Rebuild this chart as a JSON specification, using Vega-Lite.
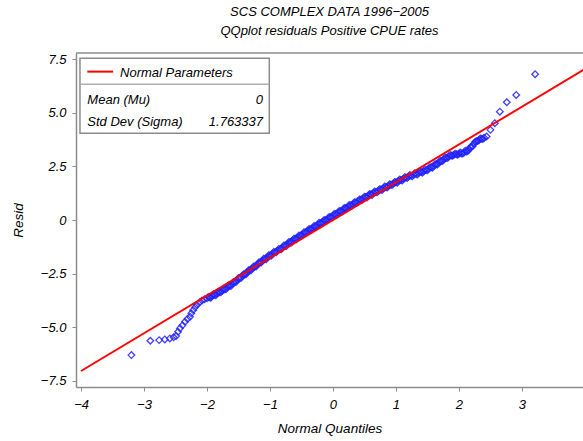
{
  "$schema": "https://vega.github.io/schema/vega-lite/v6.json",
  "autosize": {"type": "none"},
  "padding": {"left": 76, "top": 53, "right": 0, "bottom": 54},
  "width": 507,
  "height": 334,
  "background": "white",
  "title": {
    "text": ["SCS COMPLEX DATA 1996−2005", "QQplot residuals Positive CPUE rates"],
    "font": "Liberation Sans", "fontSize": 13, "fontStyle": "italic", "fontWeight": "normal",
    "lineHeight": 19, "offset": 14, "anchor": "middle", "color": "black"
  },
  "config": {
    "view": {"stroke": null},
    "axis": {
      "grid": false,
      "domainColor": "#8c8c8c", "domainWidth": 1.5,
      "tickColor": "#8c8c8c", "tickSize": 4,
      "labelFont": "Liberation Sans", "labelFontSize": 13, "labelFontStyle": "italic", "labelColor": "black",
      "titleFont": "Liberation Sans", "titleFontSize": 13.5, "titleFontStyle": "italic", "titleFontWeight": "normal", "titleColor": "black"
    }
  },
  "datasets": {
    "qq": [
      {"q": -3.20, "resid": -6.31}, {"q": -2.90, "resid": -5.64}, {"q": -2.76, "resid": -5.61},
      {"q": -2.67, "resid": -5.58}, {"q": -2.59, "resid": -5.53}, {"q": -2.53, "resid": -5.48},
      {"q": -2.49, "resid": -5.42}, {"q": -2.46, "resid": -5.22}, {"q": -2.43, "resid": -5.06},
      {"q": -2.39, "resid": -4.92}, {"q": -2.35, "resid": -4.75}, {"q": -2.31, "resid": -4.62},
      {"q": -2.27, "resid": -4.52}, {"q": -2.25, "resid": -4.36}, {"q": -2.22, "resid": -4.21},
      {"q": -2.19, "resid": -4.08}, {"q": -2.16, "resid": -3.97}, {"q": -2.12, "resid": -3.85},
      {"q": -2.08, "resid": -3.76}, {"q": -2.04, "resid": -3.70}, {"q": -2.00, "resid": -3.66},
      {"q": -1.96, "resid": -3.61}, {"q": -1.92, "resid": -3.55}, {"q": -1.88, "resid": -3.49},
      {"q": -1.84, "resid": -3.43}, {"q": -1.80, "resid": -3.37}, {"q": -1.76, "resid": -3.30},
      {"q": -1.72, "resid": -3.23}, {"q": -1.68, "resid": -3.15}, {"q": -1.64, "resid": -3.07},
      {"q": -1.60, "resid": -2.99}, {"q": -1.56, "resid": -2.90}, {"q": -1.52, "resid": -2.81},
      {"q": -1.48, "resid": -2.71}, {"q": -1.44, "resid": -2.62}, {"q": -1.40, "resid": -2.53},
      {"q": -1.36, "resid": -2.44}, {"q": -1.32, "resid": -2.35}, {"q": -1.28, "resid": -2.26},
      {"q": -1.24, "resid": -2.17}, {"q": -1.20, "resid": -2.08}, {"q": -1.16, "resid": -1.99},
      {"q": -1.12, "resid": -1.90}, {"q": -1.08, "resid": -1.82}, {"q": -1.04, "resid": -1.74},
      {"q": -1.00, "resid": -1.66}, {"q": -0.96, "resid": -1.58}, {"q": -0.92, "resid": -1.50},
      {"q": -0.88, "resid": -1.43}, {"q": -0.84, "resid": -1.36}, {"q": -0.80, "resid": -1.28},
      {"q": -0.76, "resid": -1.20}, {"q": -0.72, "resid": -1.12}, {"q": -0.68, "resid": -1.04},
      {"q": -0.64, "resid": -0.96}, {"q": -0.60, "resid": -0.88}, {"q": -0.56, "resid": -0.81},
      {"q": -0.52, "resid": -0.73}, {"q": -0.48, "resid": -0.66}, {"q": -0.44, "resid": -0.58},
      {"q": -0.40, "resid": -0.51}, {"q": -0.36, "resid": -0.44}, {"q": -0.32, "resid": -0.37},
      {"q": -0.28, "resid": -0.30}, {"q": -0.24, "resid": -0.22}, {"q": -0.20, "resid": -0.15},
      {"q": -0.16, "resid": -0.08}, {"q": -0.12, "resid": -0.01}, {"q": -0.08, "resid": 0.06},
      {"q": -0.04, "resid": 0.13}, {"q": 0.00, "resid": 0.20}, {"q": 0.04, "resid": 0.27},
      {"q": 0.08, "resid": 0.34}, {"q": 0.12, "resid": 0.41}, {"q": 0.16, "resid": 0.48},
      {"q": 0.20, "resid": 0.55}, {"q": 0.24, "resid": 0.62}, {"q": 0.28, "resid": 0.68},
      {"q": 0.32, "resid": 0.75}, {"q": 0.36, "resid": 0.82}, {"q": 0.40, "resid": 0.88},
      {"q": 0.44, "resid": 0.95}, {"q": 0.48, "resid": 1.01}, {"q": 0.52, "resid": 1.07},
      {"q": 0.56, "resid": 1.13}, {"q": 0.60, "resid": 1.19}, {"q": 0.64, "resid": 1.25},
      {"q": 0.68, "resid": 1.31}, {"q": 0.72, "resid": 1.37}, {"q": 0.76, "resid": 1.42},
      {"q": 0.80, "resid": 1.48}, {"q": 0.84, "resid": 1.54}, {"q": 0.88, "resid": 1.59},
      {"q": 0.92, "resid": 1.65}, {"q": 0.96, "resid": 1.70}, {"q": 1.00, "resid": 1.76},
      {"q": 1.04, "resid": 1.82}, {"q": 1.08, "resid": 1.87}, {"q": 1.12, "resid": 1.93},
      {"q": 1.16, "resid": 1.98}, {"q": 1.20, "resid": 2.03}, {"q": 1.24, "resid": 2.07},
      {"q": 1.28, "resid": 2.11}, {"q": 1.32, "resid": 2.15}, {"q": 1.36, "resid": 2.19},
      {"q": 1.40, "resid": 2.24}, {"q": 1.44, "resid": 2.28}, {"q": 1.48, "resid": 2.33},
      {"q": 1.52, "resid": 2.39}, {"q": 1.56, "resid": 2.46}, {"q": 1.60, "resid": 2.52},
      {"q": 1.64, "resid": 2.60}, {"q": 1.68, "resid": 2.68}, {"q": 1.72, "resid": 2.76},
      {"q": 1.76, "resid": 2.84}, {"q": 1.80, "resid": 2.91}, {"q": 1.84, "resid": 2.97},
      {"q": 1.88, "resid": 3.01}, {"q": 1.92, "resid": 3.05}, {"q": 1.96, "resid": 3.07},
      {"q": 2.00, "resid": 3.09}, {"q": 2.04, "resid": 3.11}, {"q": 2.08, "resid": 3.15},
      {"q": 2.12, "resid": 3.20}, {"q": 2.16, "resid": 3.29}, {"q": 2.20, "resid": 3.42},
      {"q": 2.24, "resid": 3.57}, {"q": 2.28, "resid": 3.68}, {"q": 2.32, "resid": 3.74},
      {"q": 2.36, "resid": 3.79}, {"q": 2.40, "resid": 3.84}, {"q": 2.44, "resid": 3.90},
      {"q": 2.50, "resid": 4.21}, {"q": 2.57, "resid": 4.52}, {"q": 2.65, "resid": 5.06},
      {"q": 2.76, "resid": 5.50}, {"q": 2.91, "resid": 5.84}, {"q": 3.21, "resid": 6.81},
      {"q": -1.98, "resid": -3.60}, {"q": -1.94, "resid": -3.63}, {"q": -1.90, "resid": -3.47},
      {"q": -1.86, "resid": -3.51}, {"q": -1.82, "resid": -3.35}, {"q": -1.78, "resid": -3.38},
      {"q": -1.74, "resid": -3.22}, {"q": -1.70, "resid": -3.24}, {"q": -1.66, "resid": -3.06},
      {"q": -1.62, "resid": -3.08}, {"q": -1.58, "resid": -2.90}, {"q": -1.54, "resid": -2.90},
      {"q": -1.50, "resid": -2.71}, {"q": -1.46, "resid": -2.71}, {"q": -1.42, "resid": -2.53},
      {"q": -1.38, "resid": -2.53}, {"q": -1.34, "resid": -2.35}, {"q": -1.30, "resid": -2.35},
      {"q": -1.26, "resid": -2.17}, {"q": -1.22, "resid": -2.17}, {"q": -1.18, "resid": -1.99},
      {"q": -1.14, "resid": -1.99}, {"q": -1.10, "resid": -1.81}, {"q": -1.06, "resid": -1.83},
      {"q": -1.02, "resid": -1.65}, {"q": -0.98, "resid": -1.67}, {"q": -0.94, "resid": -1.49},
      {"q": -0.90, "resid": -1.51}, {"q": -0.86, "resid": -1.35}, {"q": -0.82, "resid": -1.37},
      {"q": -0.78, "resid": -1.19}, {"q": -0.74, "resid": -1.21}, {"q": -0.70, "resid": -1.03},
      {"q": -0.66, "resid": -1.05}, {"q": -0.62, "resid": -0.87}, {"q": -0.58, "resid": -0.90},
      {"q": -0.54, "resid": -0.72}, {"q": -0.50, "resid": -0.74}, {"q": -0.46, "resid": -0.57},
      {"q": -0.42, "resid": -0.59}, {"q": -0.38, "resid": -0.42}, {"q": -0.34, "resid": -0.45},
      {"q": -0.30, "resid": -0.28}, {"q": -0.26, "resid": -0.31}, {"q": -0.22, "resid": -0.13},
      {"q": -0.18, "resid": -0.16}, {"q": -0.14, "resid": 0.00}, {"q": -0.10, "resid": -0.02},
      {"q": -0.06, "resid": 0.14}, {"q": -0.02, "resid": 0.11}, {"q": 0.02, "resid": 0.28},
      {"q": 0.06, "resid": 0.25}, {"q": 0.10, "resid": 0.42}, {"q": 0.14, "resid": 0.39},
      {"q": 0.18, "resid": 0.56}, {"q": 0.22, "resid": 0.53}, {"q": 0.26, "resid": 0.70},
      {"q": 0.30, "resid": 0.66}, {"q": 0.34, "resid": 0.83}, {"q": 0.38, "resid": 0.80},
      {"q": 0.42, "resid": 0.96}, {"q": 0.46, "resid": 0.93}, {"q": 0.50, "resid": 1.09},
      {"q": 0.54, "resid": 1.05}, {"q": 0.58, "resid": 1.21}, {"q": 0.62, "resid": 1.17},
      {"q": 0.66, "resid": 1.33}, {"q": 0.70, "resid": 1.29}, {"q": 0.74, "resid": 1.44},
      {"q": 0.78, "resid": 1.40}, {"q": 0.82, "resid": 1.56}, {"q": 0.86, "resid": 1.52},
      {"q": 0.90, "resid": 1.67}, {"q": 0.94, "resid": 1.63}, {"q": 0.98, "resid": 1.78},
      {"q": 1.02, "resid": 1.74}, {"q": 1.06, "resid": 1.89}, {"q": 1.10, "resid": 1.85},
      {"q": 1.14, "resid": 2.00}, {"q": 1.18, "resid": 1.96}, {"q": 1.22, "resid": 2.10},
      {"q": 1.26, "resid": 2.04}, {"q": 1.30, "resid": 2.18}, {"q": 1.34, "resid": 2.12},
      {"q": 1.38, "resid": 2.26}, {"q": 1.42, "resid": 2.21}, {"q": 1.46, "resid": 2.35},
      {"q": 1.50, "resid": 2.32}, {"q": 1.54, "resid": 2.47}, {"q": 1.58, "resid": 2.44},
      {"q": 1.62, "resid": 2.61}, {"q": 1.66, "resid": 2.59}, {"q": 1.70, "resid": 2.77},
      {"q": 1.74, "resid": 2.75}, {"q": 1.78, "resid": 2.91}, {"q": 1.82, "resid": 2.89},
      {"q": 1.86, "resid": 3.04}, {"q": 1.90, "resid": 3.00}, {"q": 1.94, "resid": 3.10},
      {"q": 1.98, "resid": 3.05}, {"q": 2.02, "resid": 3.15}, {"q": 2.06, "resid": 3.10},
      {"q": 2.10, "resid": 3.23}, {"q": 2.14, "resid": 3.22}, {"q": 2.18, "resid": 3.40},
      {"q": 2.22, "resid": 3.46}, {"q": 2.26, "resid": 3.66}, {"q": 2.30, "resid": 3.69},
      {"q": 2.34, "resid": 3.81}, {"q": 2.38, "resid": 3.78}
    ],
    "fit": [
      {"q": -4, "fit": -7.053348, "series": "Normal Parameters"},
      {"q": 4, "fit": 7.053348, "series": "Normal Parameters"}
    ],
    "stats": [
      {"stat": "Mean (Mu)", "value": "0"},
      {"stat": "Std Dev (Sigma)", "value": "1.763337"}
    ]
  },
  "layer": [
    {
      "data": {"values": [{}]},
      "mark": {"type": "rule", "stroke": "#8c8c8c", "strokeWidth": 1.5},
      "encoding": {
        "x": {"datum": -4.08}, "x2": {"datum": 3.97},
        "y": {"datum": 7.8}
      }
    },
    {
      "data": {"name": "qq"},
      "mark": {"type": "point", "shape": "diamond", "filled": false, "stroke": "#2222ff", "strokeWidth": 1.3, "size": 44, "opacity": 0.85},
      "encoding": {
        "x": {"field": "q", "type": "quantitative", "scale": {"domain": [-4.08, 3.97], "nice": false, "zero": false},
          "axis": {"values": [-4, -3, -2, -1, 0, 1, 2, 3, 4], "format": ".0f", "title": "Normal Quantiles", "labelPadding": 7, "titlePadding": 10}},
        "y": {"field": "resid", "type": "quantitative", "scale": {"domain": [-7.8, 7.8], "nice": false, "zero": false},
          "axis": {"values": [-7.5, -5, -2.5, 0, 2.5, 5, 7.5], "title": "Resid", "labelPadding": 6, "titlePadding": 15,
            "labelExpr": "datum.value == 0 ? '0' : format(datum.value, '.1f')"}}
      }
    },
    {
      "data": {"name": "fit"},
      "mark": {"type": "line", "color": "#ff0000", "strokeWidth": 2},
      "encoding": {
        "x": {"field": "q", "type": "quantitative"},
        "y": {"field": "fit", "type": "quantitative"}
      }
    },
    {
      "data": {"values": [{}]},
      "mark": {"type": "rect", "fill": "white", "stroke": "#8c8c8c", "strokeWidth": 1.5},
      "encoding": {
        "x": {"datum": -4.017}, "x2": {"datum": -1.011},
        "y": {"datum": 7.55}, "y2": {"datum": 4.05}
      }
    },
    {
      "data": {"values": [{}]},
      "mark": {"type": "rule", "stroke": "#b0b0b0", "strokeWidth": 1.5},
      "encoding": {
        "x": {"datum": -4.017}, "x2": {"datum": -1.011},
        "y": {"datum": 6.34}
      }
    },
    {
      "data": {"name": "fit"},
      "transform": [{"filter": "datum.q < 0"}],
      "mark": {"type": "rule", "stroke": "#ff0000", "strokeWidth": 2},
      "encoding": {
        "x": {"datum": -3.90}, "x2": {"datum": -3.49},
        "y": {"datum": 6.93}
      }
    },
    {
      "data": {"name": "fit"},
      "transform": [{"filter": "datum.q < 0"}],
      "mark": {"type": "text", "align": "left", "baseline": "middle", "font": "Liberation Sans", "fontSize": 13, "fontStyle": "italic", "color": "black"},
      "encoding": {
        "x": {"datum": -3.38}, "y": {"datum": 6.86},
        "text": {"field": "series"}
      }
    },
    {
      "data": {"name": "stats"},
      "transform": [{"filter": "datum.stat == 'Mean (Mu)'"}],
      "mark": {"type": "text", "align": "left", "baseline": "middle", "font": "Liberation Sans", "fontSize": 13, "fontStyle": "italic", "color": "black"},
      "encoding": {"x": {"datum": -3.90}, "y": {"datum": 5.60}, "text": {"field": "stat"}}
    },
    {
      "data": {"name": "stats"},
      "transform": [{"filter": "datum.stat == 'Mean (Mu)'"}],
      "mark": {"type": "text", "align": "right", "baseline": "middle", "font": "Liberation Sans", "fontSize": 13, "fontStyle": "italic", "color": "black"},
      "encoding": {"x": {"datum": -1.11}, "y": {"datum": 5.60}, "text": {"field": "value"}}
    },
    {
      "data": {"name": "stats"},
      "transform": [{"filter": "datum.stat == 'Std Dev (Sigma)'"}],
      "mark": {"type": "text", "align": "left", "baseline": "middle", "font": "Liberation Sans", "fontSize": 13, "fontStyle": "italic", "color": "black"},
      "encoding": {"x": {"datum": -3.90}, "y": {"datum": 4.56}, "text": {"field": "stat"}}
    },
    {
      "data": {"name": "stats"},
      "transform": [{"filter": "datum.stat == 'Std Dev (Sigma)'"}],
      "mark": {"type": "text", "align": "right", "baseline": "middle", "font": "Liberation Sans", "fontSize": 13, "fontStyle": "italic", "color": "black"},
      "encoding": {"x": {"datum": -1.11}, "y": {"datum": 4.56}, "text": {"field": "value"}}
    }
  ]
}
